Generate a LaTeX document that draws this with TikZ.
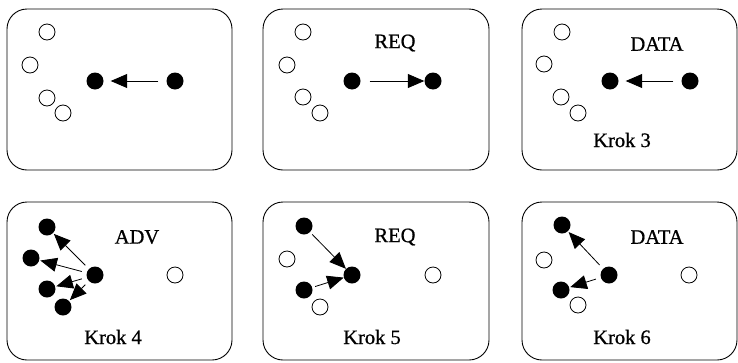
\documentclass[tikz,border=0pt]{standalone}
\usepackage{fontspec}
\setmainfont{Liberation Serif}[FakeBold=0.8]
\usetikzlibrary{arrows.meta}
\begin{document}
\begin{tikzpicture}[x=1pt,y=-1pt,
  panel/.style={draw,line width=0.9pt,rounded corners=20pt},
  opencirc/.style={circle,draw,line width=0.8pt,fill=white,minimum size=16pt,inner sep=0pt},
  fullcirc/.style={circle,fill=black,minimum size=17pt,inner sep=0pt},
  lbl/.style={font=\fontsize{20.5}{22}\selectfont,inner sep=0pt},
  arr/.style={line width=0.8pt,-{Triangle[length=16.5pt,width=14pt]},shorten >=1pt,shorten <=5pt}]
\useasboundingbox (0,0) rectangle (738,362);
% panels
\draw[panel] (7,9) rectangle (232,170);
\draw[panel] (263,9) rectangle (489,170);
\draw[panel] (522,9) rectangle (737,170);
\draw[panel] (7,202) rectangle (232,360);
\draw[panel] (263,202) rectangle (489,360);
\draw[panel] (522,202) rectangle (737,360);
% panel 1
\node[opencirc] (a1) at (47,32) {};
\node[opencirc] (a2) at (30,65) {};
\node[opencirc] (a3) at (47,98) {};
\node[opencirc] (a4) at (63,113) {};
\node[fullcirc] (a5) at (95,81) {};
\node[fullcirc] (a6) at (175,81) {};
\draw[arr,shorten <=8pt,shorten >=7pt] (a6) -- (a5);
% panel 2
\node[opencirc] (b1) at (303,32) {};
\node[opencirc] (b2) at (287,65) {};
\node[opencirc] (b3) at (303,97) {};
\node[opencirc] (b4) at (320,113) {};
\node[fullcirc] (b5) at (352,81) {};
\node[fullcirc] (b6) at (433,81) {};
\node[lbl] (bl) at (395,43) {REQ};
\draw[arr,shorten <=9pt,shorten >=0pt] (b5) -- (b6);
% panel 3
\node[opencirc] (c1) at (562,32) {};
\node[opencirc] (c2) at (544,64) {};
\node[opencirc] (c3) at (561,97) {};
\node[opencirc] (c4) at (578,113) {};
\node[fullcirc] (c5) at (610,81) {};
\node[fullcirc] (c6) at (690,81) {};
\node[lbl] (cl) at (657,44) {DATA};
\node[lbl] (ck) at (622,140) {Krok 3};
\draw[arr,shorten <=8pt,shorten >=7pt] (c6) -- (c5);
% panel 4
\node[fullcirc] (d1) at (47,227) {};
\node[fullcirc] (d2) at (31,258) {};
\node[fullcirc] (d3) at (95,275) {};
\node[fullcirc] (d4) at (47,289) {};
\node[fullcirc] (d5) at (63,307) {};
\node[opencirc] (d6) at (175,275) {};
\node[lbl] (dl) at (137,237) {ADV};
\node[lbl] (dk) at (113,337) {Krok 4};
\draw[arr] (d3) -- (d1);
\draw[arr] (d3) -- (d2);
\draw[arr] (d3) -- (d4);
\draw[arr] (d3) -- (d5);
% panel 5
\node[fullcirc] (e1) at (304,226) {};
\node[opencirc] (e2) at (287,259) {};
\node[fullcirc] (e3) at (352,275) {};
\node[fullcirc] (e4) at (304,290) {};
\node[opencirc] (e5) at (320,307) {};
\node[opencirc] (e6) at (433,275) {};
\node[lbl] (el) at (395,237) {REQ};
\node[lbl] (ek) at (372,337) {Krok 5};
\draw[arr,shorten <=3pt,shorten >=0pt] (e1) -- (e3);
\draw[arr,shorten <=3pt,shorten >=0pt] (e4) -- (e3);
% panel 6
\node[fullcirc] (f1) at (562,225) {};
\node[opencirc] (f2) at (544,260) {};
\node[fullcirc] (f3) at (609,275) {};
\node[fullcirc] (f4) at (561,290) {};
\node[opencirc] (f5) at (578,305) {};
\node[opencirc] (f6) at (689,275) {};
\node[lbl] (fl) at (657,237) {DATA};
\node[lbl] (fk) at (622,337) {Krok 6};
\draw[arr] (f3) -- (f1);
\draw[arr] (f3) -- (f4);
\end{tikzpicture}
\end{document}
